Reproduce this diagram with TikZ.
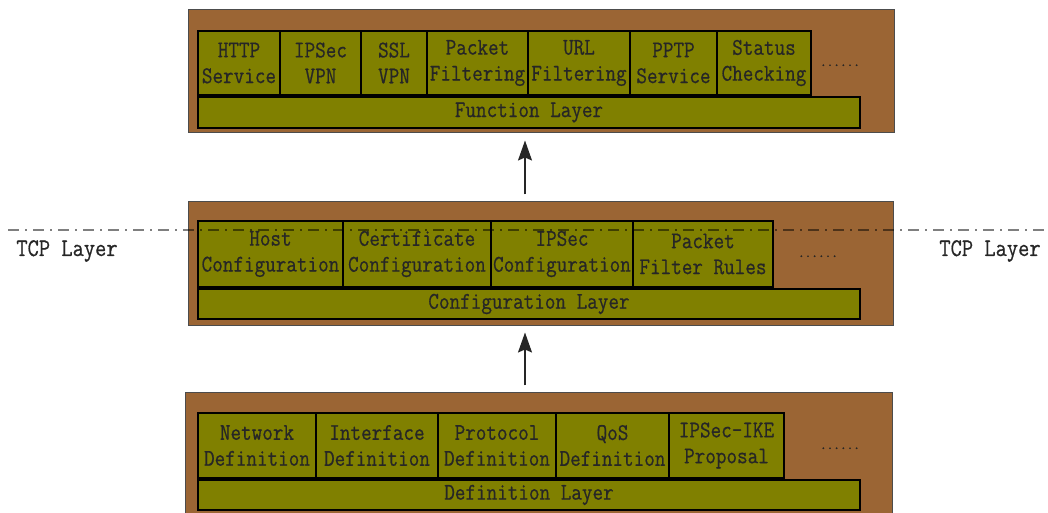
\documentclass[tikz,border=0pt]{standalone}
\usepackage{fontspec}
\newfontfamily\cellfont[FakeStretch=0.86,FakeBold=0.6]{Latin Modern Mono}
\newfontfamily\dotfont[FakeBold=2.5]{Latin Modern Mono}
\usetikzlibrary{arrows.meta,calc}
\definecolor{brownbg}{RGB}{155,101,52}
\definecolor{olivec}{RGB}{128,128,0}
\tikzset{
  layerbox/.style 2 args={draw=black!70, fill=brownbg, line width=1bp, minimum width=#1, minimum height=#2, inner sep=0, rectangle},
  cell/.style 2 args={draw=black, fill=olivec, line width=1.5bp, minimum width=#1, minimum height=#2, inner sep=0, rectangle,
     font=\fontsize{24}{26}\cellfont, align=center, text=black!85},
  dots/.style={font=\fontsize{13}{14}\dotfont, inner sep=0, anchor=base, text=black!85},
  tcp/.style={font=\fontsize{25.5}{26}\cellfont, inner sep=0, anchor=base, text=black!85},
  arr/.style={draw=black!85, line width=1.5bp, -{Stealth[length=20bp,width=14bp,inset=3bp]}, shorten <=7bp, shorten >=7bp},
  tcpline/.style={draw=black, opacity=0.5, line width=1.6bp, dash pattern=on 11bp off 6bp on 2bp off 6bp}
}
\begin{document}
\begin{tikzpicture}[x=1bp,y=-1bp]
\useasboundingbox (0,0) rectangle (1048,513);
% ---------- top: function layer ----------
\node[layerbox={705bp}{123bp}] (top) at (541.5,71.5) {};
\node[cell={82bp}{64bp}]  (f1) at (239,63)   {HTTP\\Service};
\node[cell={81bp}{64bp}]  (f2) at (320.5,63) {IPSec\\VPN};
\node[cell={66bp}{64bp}]  (f3) at (394,63)   {SSL\\VPN};
\node[cell={101bp}{64bp}] (f4) at (477.5,63) {Packet\\Filtering};
\node[cell={102bp}{64bp}] (f5) at (579,63)   {URL\\Filtering};
\node[cell={87bp}{64bp}]  (f6) at (673.5,63) {PPTP\\Service};
\node[cell={94bp}{64bp}]  (f7) at (764,63)   {Status\\Checking};
\node[dots] (fd) at (840,66) {......};
\node[cell={662bp}{31bp}] (fl) at (529,112.5) {Function Layer};
% ---------- middle: configuration layer ----------
\node[layerbox={704bp}{123bp}] (mid) at (541,263.5) {};
\node[cell={145bp}{66bp}] (m1) at (270.5,254) {Host\\Configuration};
\node[cell={148bp}{66bp}] (m2) at (417,254)   {Certificate\\Configuration};
\node[cell={142bp}{66bp}] (m3) at (562,254)   {IPSec\\Configuration};
\node[cell={140bp}{66bp}] (m4) at (703,254)   {Packet\\Filter Rules};
\node[dots] (md) at (818,257) {......};
\node[cell={662bp}{30bp}] (ml) at (529,304) {Configuration Layer};
% ---------- bottom: definition layer ----------
\node[layerbox={706bp}{127bp}] (bot) at (539,456.5) {};
\node[cell={118bp}{65bp}] (b1) at (257,445.5)   {Network\\Definition};
\node[cell={122bp}{65bp}] (b2) at (377,445.5)   {Interface\\Definition};
\node[cell={118bp}{65bp}] (b3) at (497,445.5)   {Protocol\\Definition};
\node[cell={113bp}{65bp}] (b4) at (612.5,445.5) {QoS\\Definition};
\node[cell={115bp}{65bp}] (b5) at (726.5,445.5) {IPSec-IKE\\Proposal};
\node[dots] (bd) at (840,449) {......};
\node[cell={662bp}{30bp}] (bl) at (529,495) {Definition Layer};
% ---------- TCP layer line ----------
\coordinate (tl) at (8,230);
\coordinate (tr) at (1048,230);
\draw[tcpline] (tl) -- (tr);
\node[tcp] (tcpl) at (67,256) {TCP Layer};
\node[tcp] (tcpr) at (990,256) {TCP Layer};
% ---------- arrows ----------
\coordinate (ax) at (525,0);
\draw[arr] (ax |- mid.north) -- (ax |- top.south);
\draw[arr] (ax |- bot.north) -- (ax |- mid.south);
\end{tikzpicture}
\end{document}
